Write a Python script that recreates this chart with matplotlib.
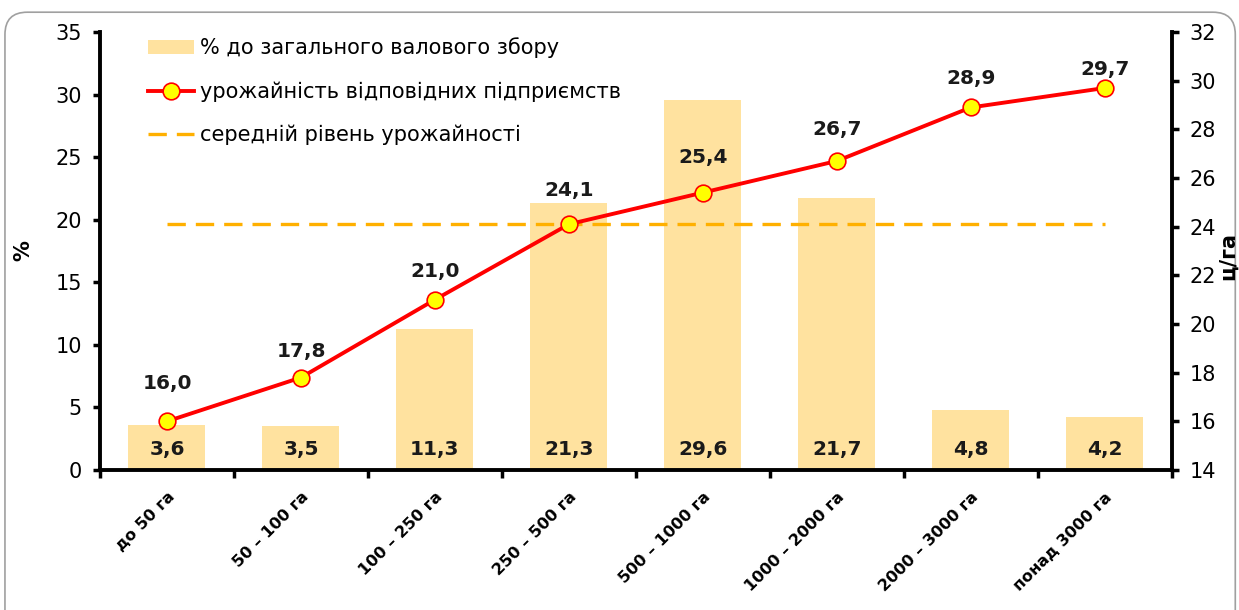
import matplotlib
matplotlib.use("Agg")
import matplotlib.pyplot as plt
from matplotlib.patches import FancyBboxPatch
from matplotlib.ticker import MultipleLocator, FixedLocator, NullFormatter

plt.rcParams['font.family'] = ['DejaVu Sans']

categories = ["до 50 га", "50 – 100 га", "100 – 250 га", "250 – 500 га",
              "500 – 1000 га", "1000 – 2000 га", "2000 – 3000 га", "понад 3000 га"]
share = [3.6, 3.5, 11.3, 21.3, 29.6, 21.7, 4.8, 4.2]
yield_vals = [16.0, 17.8, 21.0, 24.1, 25.4, 26.7, 28.9, 29.7]
avg_yield = 24.1

# label offsets above markers (points) – layout only
label_dy = [27, 19, 20, 24, 25, 23, 21, 13]

fig = plt.figure(figsize=(12.39, 6.10), dpi=100)
frame = FancyBboxPatch((0.004, -0.05), 0.993, 1.03, boxstyle="round,pad=0,rounding_size=0.018",
                       transform=fig.transFigure, fill=False, edgecolor='#A0A0A0', linewidth=1.2,
                       mutation_aspect=1239/610)
fig.patches.append(frame)

ax = fig.add_axes([0.0807, 0.2295, 0.865, 0.718])
x = list(range(len(categories)))
bars = ax.bar(x, share, width=0.575, color='#FFE29F', zorder=1,
              label='% до загального валового збору')
ax.set_xlim(-0.5, len(categories) - 0.5)
ax.set_ylim(0, 35)
ax.yaxis.set_major_locator(MultipleLocator(5))
for xi, v in zip(x, share):
    ax.text(xi, 1.6, f"{v:.1f}".replace('.', ','), ha='center', va='center',
            fontsize=14.5, fontweight='bold', color='#1a1a1a', zorder=5)

ax2 = ax.twinx()
ax2.set_ylim(14, 32)
ax2.yaxis.set_major_locator(MultipleLocator(2))
line, = ax2.plot(x, yield_vals, color='#FF0000', linewidth=2.8, marker='o', markersize=12,
                 markerfacecolor='#FFFF00', markeredgecolor='#FF0000', markeredgewidth=1.2,
                 zorder=4, label='урожайність відповідних підприємств')
avg, = ax2.plot([x[0], x[-1]], [avg_yield, avg_yield], color='#FFB000', linewidth=2.4,
                linestyle=(0, (5.5, 3)), zorder=3, label='середній рівень урожайності')
for xi, v, dy in zip(x, yield_vals, label_dy):
    ax2.annotate(f"{v:.1f}".replace('.', ','), (xi, v), xytext=(0, dy), textcoords='offset points',
                 ha='center', va='center', fontsize=14.5, fontweight='bold', color='#1a1a1a')

# X axis: ticks at category boundaries
ax.xaxis.set_major_locator(FixedLocator(x))
ax.set_xticklabels(categories, rotation=45, ha='right', rotation_mode='anchor',
                   fontsize=11.5, fontweight='bold')
ax.tick_params(axis='x', which='major', length=0, pad=14)
ax.xaxis.set_minor_locator(FixedLocator([i - 0.5 for i in range(len(categories) + 1)]))
ax.xaxis.set_minor_formatter(NullFormatter())
ax.tick_params(axis='x', which='minor', length=6, width=2.5, direction='out')

for a in (ax, ax2):
    a.spines['top'].set_visible(False)
ax.spines['right'].set_visible(False)
ax.spines['left'].set_linewidth(2.8)
ax.spines['bottom'].set_linewidth(2.8)
ax2.spines['left'].set_visible(False)
ax2.spines['bottom'].set_visible(False)
ax2.spines['right'].set_linewidth(2.8)
ax.tick_params(axis='y', length=5, width=2.5, labelsize=15, pad=8)
ax2.tick_params(axis='y', length=5, width=2.5, labelsize=15, pad=8)

ax.set_ylabel('%', fontsize=15, fontweight='bold', labelpad=16)
fig.text(0.983, 0.58, 'ц/га', rotation=90, fontsize=15, fontweight='bold', ha='left', va='center')

leg = ax2.legend(handles=[bars, line, avg], loc='upper left', bbox_to_anchor=(0.027, 1.03),
                 frameon=False, fontsize=15, handlelength=2.2, handletextpad=0.3,
                 labelspacing=1.1)

fig.savefig('out.png', dpi=100)
